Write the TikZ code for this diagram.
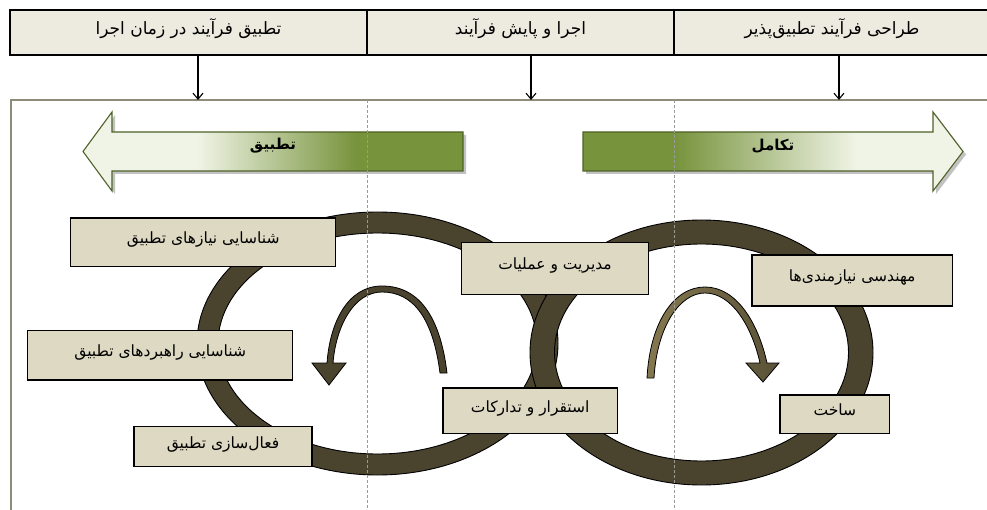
\documentclass[tikz,border=0pt]{standalone}
\usepackage{fontspec}
\newfontfamily\arabicfont[Script=Arabic]{DejaVu Sans}
\TeXXeTstate=1
\usetikzlibrary{arrows.meta}
\definecolor{hdrfill}{HTML}{EDEBE0}
\definecolor{boxfill}{HTML}{DDD9C3}
\definecolor{ringcol}{HTML}{4A432E}
\definecolor{ringlight}{HTML}{857850}
\definecolor{ringmid}{HTML}{5A5237}
\definecolor{leafgreen}{HTML}{77933C}
\definecolor{palegreen}{HTML}{F0F4E6}
\definecolor{arrowline}{HTML}{4F6228}
\definecolor{panelline}{HTML}{8C8C78}
\definecolor{guide}{HTML}{9A9A9A}
\pgfdeclarehorizontalshading{fadeleft}{100bp}{color(0bp)=(palegreen); color(40bp)=(palegreen); color(61bp)=(leafgreen); color(100bp)=(leafgreen)}
\pgfdeclarehorizontalshading{faderight}{100bp}{color(0bp)=(leafgreen); color(37bp)=(leafgreen); color(61bp)=(palegreen); color(100bp)=(palegreen)}
\newcommand{\fatext}[1]{{\arabicfont\beginR #1\endR}}
\begin{document}
\begin{tikzpicture}[x=1pt,y=1pt,
  hdr/.style={draw=black, line width=1.1pt, fill=hdrfill, minimum height=45pt, inner sep=0pt, text height=12pt, text depth=8pt, font=\fontsize{17}{20}\selectfont},
  stagebox/.style={draw=black, line width=1.3pt, fill=boxfill, inner sep=0pt, text height=11pt, text depth=8pt, font=\fontsize{15.5}{18}\selectfont},
  bigarrow/.style={draw=arrowline, line width=1.1pt},
  phase/.style={inner sep=0pt, font=\fontsize{15}{18}\selectfont\bfseries},
  ring/.style={fill=ringcol, draw=black, line width=0.9pt, even odd rule},
  downarrow/.style={draw=black, line width=1.1pt, -{Straight Barb[length=6pt,width=10pt]}},
  guideline/.style={draw=guide, line width=0.6pt, dash pattern=on 3pt off 2pt}]
\useasboundingbox (0,0) rectangle (987,-510);

% header row
\node[hdr, minimum width=357pt] (h1) at (188.5,-32.5) {\fatext{تطبیق فرآیند در زمان اجرا}};
\node[hdr, minimum width=307pt] (h2) at (520.5,-32.5) {\fatext{اجرا و پایش فرآیند}};
\node[hdr, minimum width=316pt] (h3) at (832,-32.5) {\fatext{طراحی فرآیند تطبیق‌پذیر}};

% panel frame
\draw[panelline, line width=1.2pt] (11,-520) -- (11,-100) -- (1000,-100);

% arrows from the header into the panel
\coordinate (t1) at (198,-100);
\coordinate (t2) at (531,-100);
\coordinate (t3) at (839,-100);
\draw[downarrow] (h1.south -| t1) -- (t1);
\draw[downarrow] (h2.south -| t2) -- (t2);
\draw[downarrow] (h3.south -| t3) -- (t3);

% phase arrows
\begin{scope}[shift={(3,-3)}]
  \fill[black!40, opacity=0.6] (463,-132) -- (112,-132) -- (112,-112) -- (83,-151.5) -- (112,-191) -- (112,-171) -- (463,-171) -- cycle;
  \fill[black!40, opacity=0.6] (583,-132) -- (933,-132) -- (933,-112) -- (963,-151.5) -- (933,-191) -- (933,-171) -- (583,-171) -- cycle;
\end{scope}
\path[bigarrow, shading=fadeleft] (463,-132) -- (112,-132) -- (112,-112) -- (83,-151.5) -- (112,-191) -- (112,-171) -- (463,-171) -- cycle;
\path[bigarrow, shading=faderight] (583,-132) -- (933,-132) -- (933,-112) -- (963,-151.5) -- (933,-191) -- (933,-171) -- (583,-171) -- cycle;
\node[phase] (p1) at (273,-146) {\fatext{تطبیق}};
\node[phase] (p2) at (773,-146) {\fatext{تکامل}};

% the two linked cycles
\path[ring] (377.5,-343.5) ellipse [x radius=180.5, y radius=131.5]
            (377.5,-343.5) ellipse [x radius=159.5, y radius=110.5];
\path[ring] (701.5,-352.5) ellipse [x radius=171.5, y radius=132.5]
            (701.5,-352.5) ellipse [x radius=147, y radius=108.5];

% turning arrows inside the cycles
\path[fill=ringcol, draw=black, line width=0.8pt]
  (447,-373) .. controls (440,-315) and (418,-286) .. (382,-286)
  .. controls (348,-286) and (330,-322) .. (327,-363)
  -- (312,-363) -- (329,-385) -- (346,-363) -- (333,-363)
  .. controls (336,-326) and (354,-292) .. (382,-292)
  .. controls (413,-292) and (433,-318) .. (440,-373) -- cycle;
\path[left color=ringlight, right color=ringmid, draw=black, line width=0.8pt]
  (647,-378) .. controls (650,-322) and (674,-287) .. (705,-287)
  .. controls (736,-287) and (758,-322) .. (767,-363)
  -- (779,-363) -- (763,-382) -- (746,-363) -- (760,-363)
  .. controls (752,-327) and (732,-293) .. (705,-293)
  .. controls (680,-293) and (657,-326) .. (654,-378) -- cycle;

% stage boxes
\node[stagebox, minimum width=265pt, minimum height=48.7pt] (b1) at (203.2,-242.3) {\fatext{شناسایی نیازهای تطبیق}};
\node[stagebox, minimum width=265pt, minimum height=49.3pt] (b2) at (160.2,-355.3) {\fatext{شناسایی راهبردهای تطبیق}};
\node[stagebox, minimum width=178pt, minimum height=40pt] (b3) at (223,-446.7) {\fatext{فعال‌سازی تطبیق}};
\node[stagebox, minimum width=187pt, minimum height=52pt] (b4) at (555,-268.5) {\fatext{مدیریت و عملیات}};
\node[stagebox, minimum width=200.5pt, minimum height=51pt] (b5) at (852.2,-280.5) {\fatext{مهندسی نیازمندی‌ها}};
\node[stagebox, minimum width=174.5pt, minimum height=45.6pt] (b6) at (530.2,-410.8) {\fatext{استقرار و تدارکات}};
\node[stagebox, minimum width=109.6pt, minimum height=38.6pt] (b7) at (834.8,-414.3) {\fatext{ساخت}};

% column guides
\draw[guideline] (367,-100) -- (367,-515);
\draw[guideline] (674,-100) -- (674,-515);
\end{tikzpicture}
\end{document}
